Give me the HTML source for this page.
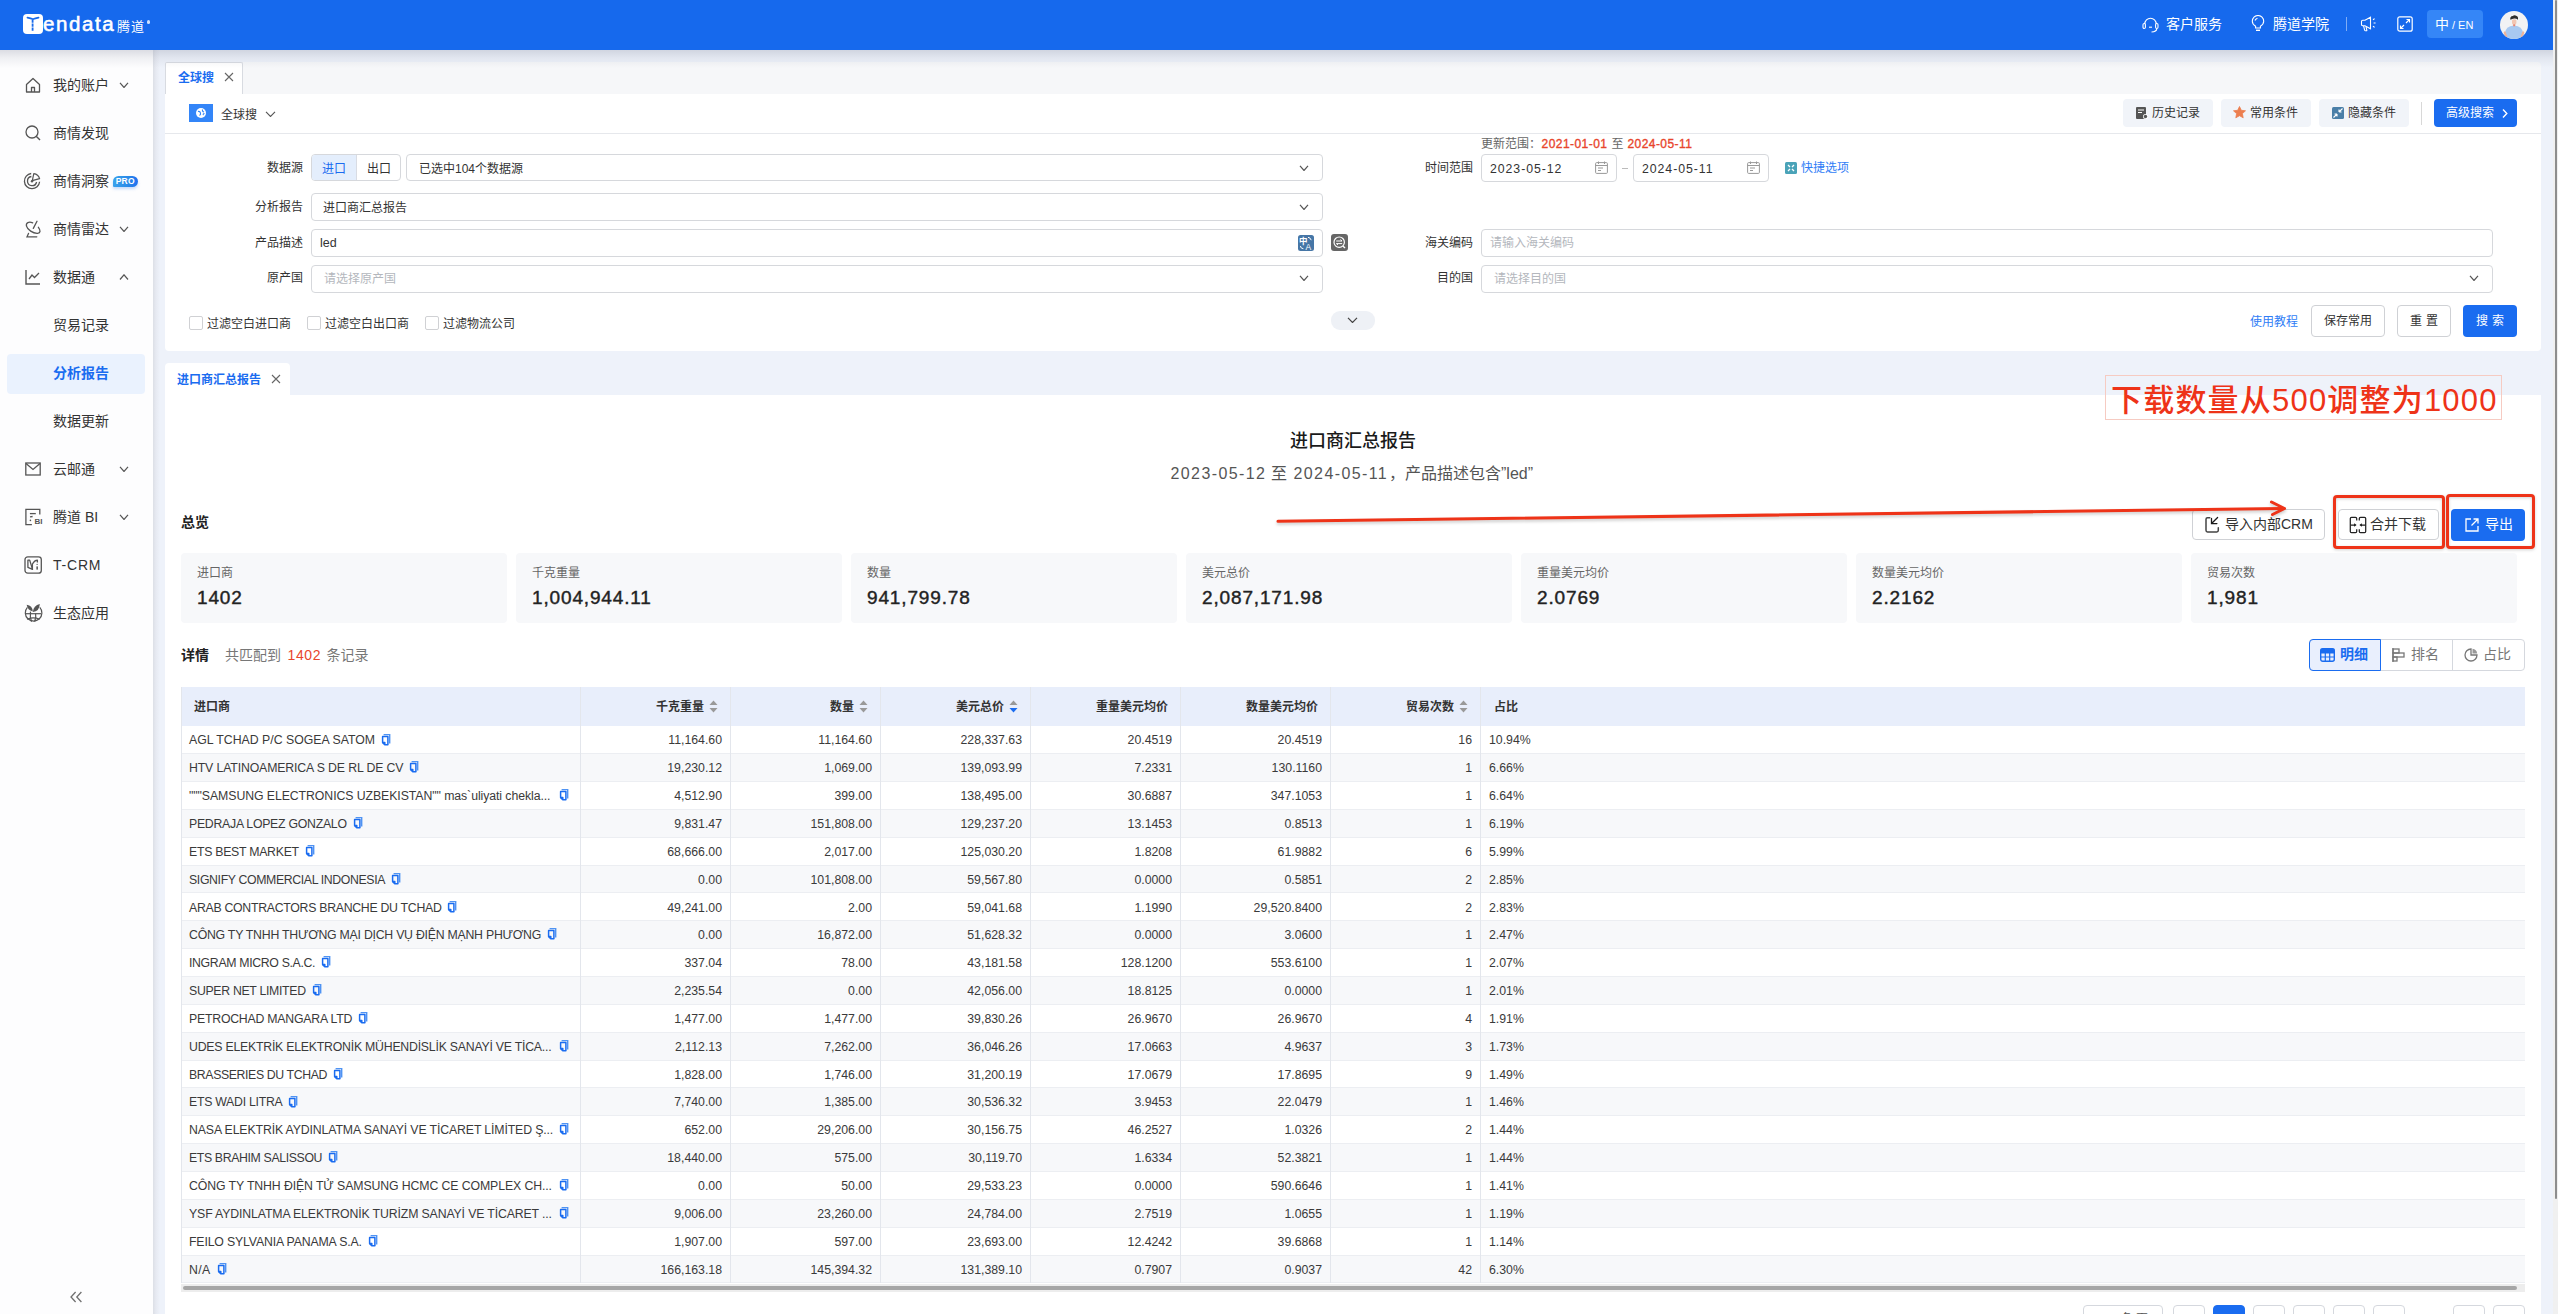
<!DOCTYPE html><html><head><meta charset="utf-8"><style>
*{box-sizing:border-box;margin:0;padding:0}
html,body{width:2558px;height:1314px;overflow:hidden;background:#eef2fa;font-family:"Liberation Sans", "Noto Sans CJK SC", sans-serif;color:#333;}
.a{position:absolute;white-space:nowrap}
.cjk{font-family:"Liberation Sans", "Noto Sans CJK SC", sans-serif}
svg{display:block}
.hdr{left:0;top:0;width:2553px;height:50px;background:#1669ed;}
.sb{left:0;top:50px;width:153px;height:1264px;background:#fdfdfe;}
.sbshadow{left:153px;top:50px;width:7px;height:1264px;background:linear-gradient(90deg,#dcdfe6,#e6e9f1 40%,#eef2fa);}
.hshadow{left:0;top:50px;width:2553px;height:18px;background:linear-gradient(180deg,rgba(140,146,165,.30),rgba(140,146,165,.12) 45%,rgba(140,146,165,0));}
.sbi{font-size:14px;color:#333;line-height:14px;}
.lbl{font-size:12px;color:#333;line-height:12px;text-align:right}
.inp{border:1px solid #d6d8dc;border-radius:4px;background:#fff;}
.ph{font-size:12px;color:#b4b7bd;line-height:12px}
.btn{border:1px solid #cfd1d5;border-radius:4px;background:#fff;font-size:12px;color:#333;text-align:center}
.tb{border-radius:4px;background:#f1f4f9;font-size:12px;color:#333;}
.stat{background:#f7f8fa;border-radius:4px;width:326px;height:70px;top:553px}
.stl{font-size:12px;color:#666;line-height:12px;left:16px;top:14px}
.stv{font-size:19px;font-weight:400;-webkit-text-stroke:0.42px #222;color:#222;line-height:20px;left:16px;top:34.5px;letter-spacing:0.85px}
.th{font-size:12px;font-weight:700;color:#333;line-height:12px}
.td{font-size:12.3px;color:#3a3a3a;line-height:12px}
</style></head><body><div class="a hdr"></div>
<div class="a" style="left:23px;top:14px;width:20px;height:20px;background:#fff;border-radius:4px"></div>
<svg class="a" style="left:23px;top:14px" width="20" height="20" viewBox="0 0 20 20"><path d="M4.5 3.6 Q8 4.6 9.6 5 M15.5 3.6 Q12 4.6 10.4 5" stroke="#186aeb" stroke-width="1.8" fill="none" stroke-linecap="round"/><path d="M9.6 5.5 V17.5" stroke="#186aeb" stroke-width="1.8" stroke-dasharray="3.2 0.8" fill="none"/></svg>
<div class="a" style="left:43px;top:12px;font-family:'Liberation Sans',sans-serif;font-size:20.5px;font-weight:400;color:#fff;line-height:24px;letter-spacing:1.6px;-webkit-text-stroke:0.55px #fff">endata</div>
<div class="a" style="left:117px;top:19px;font-family:'Noto Sans CJK SC',sans-serif;font-size:13px;color:#fff;line-height:14px;letter-spacing:1px">腾道</div>
<div class="a" style="left:146.5px;top:20px;width:3.5px;height:3.5px;border-radius:2px;background:#fff;opacity:.8"></div>
<svg class="a" style="left:2142px;top:15px" width="17" height="18" viewBox="0 0 17 18" fill="none" stroke="#fff" stroke-width="1.1"><path d="M2.8 9 A5.7 5.7 0 0 1 14.2 9"/><rect x="1" y="8.5" width="2.4" height="5" rx="1.2"/><rect x="13.6" y="8.5" width="2.4" height="5" rx="1.2"/><path d="M14.8 13.6 Q14.6 16.8 9.5 17"/><path d="M7 12.2 H10"/></svg>
<div class="a" style="left:2166px;top:16px;font-size:14px;color:#fff;line-height:16px">客户服务</div>
<svg class="a" style="left:2251px;top:15px" width="14" height="18" viewBox="0 0 14 18" fill="none" stroke="#fff" stroke-width="1.1"><path d="M4.6 13 V11.2 C2.6 10 1.3 8.2 1.3 6.2 a5.7 5.7 0 0 1 11.4 0 c0 2 -1.3 3.8 -3.3 5 V13 Z"/><path d="M5 15.3 h4" stroke-width="1.4"/><path d="M4 5.5 Q4.6 3.6 6.5 3.2"/></svg>
<div class="a" style="left:2273px;top:16px;font-size:14px;color:#fff;line-height:16px">腾道学院</div>
<div class="a" style="left:2346px;top:17px;width:1px;height:14px;background:rgba(255,255,255,.45)"></div>
<svg class="a" style="left:2360px;top:16px" width="18" height="16" viewBox="0 0 18 16" fill="none" stroke="#fff" stroke-width="1.1"><path d="M1.5 5.5 Q1.5 4.3 2.7 4.3 H5 L10.5 1.2 V12.8 L5 9.7 H2.7 Q1.5 9.7 1.5 8.5 Z"/><path d="M3.6 9.8 L4.6 14.2 Q4.8 14.8 5.5 14.8 H6.4 Q7 14.8 6.8 14.1 L6 10.3"/><path d="M13 3.8 L14.6 2.6 M13.6 7 H15.6 M13 10.2 L14.6 11.4"/></svg>
<svg class="a" style="left:2397px;top:16px" width="16" height="16" viewBox="0 0 16 16" fill="none" stroke="#fff" stroke-width="1.2"><rect x="0.8" y="0.8" width="14.4" height="14.4" rx="2"/><path d="M9 7 L12.3 3.7 M9.5 3.5 H12.5 V6.5 M7 9 L3.7 12.3 M3.5 9.5 V12.5 H6.5"/></svg>
<div class="a" style="left:2427px;top:10px;width:56px;height:28px;border-radius:4px;background:#3586f7"></div>
<div class="a" style="left:2435px;top:16px;font-size:14px;color:#fff;line-height:16px">中<span style="font-size:11px;margin-left:3px">/ EN</span></div>
<div class="a" style="left:2500px;top:11px;width:28px;height:28px;border-radius:14px;background:#f2f2f4;overflow:hidden">
<svg width="28" height="28" viewBox="0 0 28 28"><path d="M4.6 28 V23 Q5.6 15 14 14.6 Q22.4 15 23.4 23 V28 Z" fill="#a9c9f1"/><path d="M4.8 21.5 L6.3 25.8 M23.2 21.5 L21.7 25.8" stroke="#f0b49a" stroke-width="2.2" stroke-linecap="round"/><rect x="12" y="8.2" width="4.4" height="5.4" rx="1.6" fill="#f3c6b2"/><path d="M13.2 13.2 h2 v2 h-2z" fill="#e8846f"/><path d="M10.4 8.8 Q9.6 5.2 12.8 4.9 Q14.4 3.5 16.6 4.9 Q18.6 5.6 17.8 8.8 Q16.4 7.2 14.2 7.4 Q12.2 7.5 10.4 8.8 Z" fill="#2e2e2e"/></svg></div>
<div class="a" style="left:2553px;top:0;width:5px;height:1314px;background:#f0f0f0"></div>
<div class="a" style="left:2555px;top:0;width:2px;height:1199px;background:#8d8d8d;border-radius:1px"></div>
<div class="a sb"></div>
<div class="a sbshadow"></div>
<svg class="a" style="left:25px;top:77px" width="16" height="16" viewBox="0 0 16 16"><path d="M1.5 7.5 L8 1.5 L14.5 7.5 V15 H1.5 Z M6.5 15 V10.5 H9.5 V15" fill="none" stroke="#555" stroke-width="1.3" stroke-linejoin="round"/></svg>
<div class="a sbi" style="left:53px;top:78px;color:#333;font-weight:400;">我的账户</div>
<svg class="a" style="left:119px;top:82px" width="10" height="6" viewBox="0 0 10 6"><path d="M1 0.8 L5.0 5.5 L9 0.8" fill="none" stroke="#555" stroke-width="1.2"/></svg>
<svg class="a" style="left:25px;top:125px" width="16" height="16" viewBox="0 0 16 16"><circle cx="7" cy="7" r="6" fill="none" stroke="#555" stroke-width="1.3"/><path d="M11.2 11.2 L15 15" stroke="#555" stroke-width="1.4"/></svg>
<div class="a sbi" style="left:53px;top:126px;color:#333;font-weight:400;">商情发现</div>
<svg class="a" style="left:24px;top:173px;overflow:visible" width="17" height="17" viewBox="0 0 17 17"><g fill="none" stroke="#555" stroke-width="1.3"><path d="M15.6 8.8 A7.6 7.6 0 1 1 7.2 0.5"/><path d="M12.6 9 A4.6 4.6 0 1 1 7.4 3.5"/><path d="M8.3 7.6 L9.8 0.6 A7.2 7.2 0 0 1 15.6 5.6 Z" stroke-width="1.2" stroke-linejoin="round"/></g><circle cx="8" cy="8.2" r="1.2" fill="#555"/></svg>
<div class="a sbi" style="left:53px;top:174px;color:#333;font-weight:400;">商情洞察</div>
<div class="a" style="left:113px;top:175.5px;width:24.5px;height:11.5px;border-radius:6px 6px 6px 1px;background:linear-gradient(90deg,#3aa2ec,#2a8ae8 60%,#1f6ff0);box-shadow:0 2px 3px rgba(40,120,240,.25);color:#fff;font-size:8.5px;font-weight:700;line-height:11.5px;text-align:center;font-family:Liberation Sans;letter-spacing:0.2px">PRO</div>
<svg class="a" style="left:24px;top:220px;overflow:visible" width="18" height="18" viewBox="0 0 18 18"><g fill="none" stroke="#555" stroke-width="1.3" stroke-linecap="round"><path d="M8.7 2.8 C5 1.3 1.6 2.6 2.5 6.2 C3.4 9.6 9 13.6 13.6 13.3 C16.6 13.1 16.8 10.4 14.4 7.3"/><path d="M9.3 8.4 L13 1.3"/><path d="M4.5 13.4 L3 16.8 H12.8"/></g></svg>
<div class="a sbi" style="left:53px;top:222px;color:#333;font-weight:400;">商情雷达</div>
<svg class="a" style="left:119px;top:226px" width="10" height="6" viewBox="0 0 10 6"><path d="M1 0.8 L5.0 5.5 L9 0.8" fill="none" stroke="#555" stroke-width="1.2"/></svg>
<svg class="a" style="left:25px;top:269px" width="16" height="16" viewBox="0 0 16 16"><path d="M1 1 V15 H15" fill="none" stroke="#555" stroke-width="1.4"/><path d="M4 10 L7 6 L9.5 8.5 L14 4" fill="none" stroke="#555" stroke-width="1.3"/></svg>
<div class="a sbi" style="left:53px;top:270px;color:#333;font-weight:400;">数据通</div>
<svg class="a" style="left:119px;top:274px" width="10" height="6" viewBox="0 0 10 6"><path d="M1 5.5 L5.0 0.8 L9 5.5" fill="none" stroke="#555" stroke-width="1.2"/></svg>
<div class="a sbi" style="left:53px;top:318px;color:#333;font-weight:400;">贸易记录</div>
<div class="a" style="left:7px;top:354px;width:138px;height:40px;border-radius:4px;background:#eaf2fe"></div>
<div class="a sbi" style="left:53px;top:366px;color:#1a6cf0;font-weight:700;">分析报告</div>
<div class="a sbi" style="left:53px;top:414px;color:#333;font-weight:400;">数据更新</div>
<svg class="a" style="left:25px;top:461px" width="16" height="16" viewBox="0 0 16 16"><rect x="0.8" y="2" width="14.4" height="12" fill="none" stroke="#555" stroke-width="1.3"/><path d="M1 2.5 L8 8.5 L15 2.5" fill="none" stroke="#555" stroke-width="1.3"/></svg>
<div class="a sbi" style="left:53px;top:462px;color:#333;font-weight:400;">云邮通</div>
<svg class="a" style="left:119px;top:466px" width="10" height="6" viewBox="0 0 10 6"><path d="M1 0.8 L5.0 5.5 L9 0.8" fill="none" stroke="#555" stroke-width="1.2"/></svg>
<svg class="a" style="left:24px;top:508px;overflow:visible" width="19" height="18" viewBox="0 0 19 18"><g fill="none" stroke="#555" stroke-width="1.3"><path d="M7.9 16.6 H1.9 V1.4 H15.8 V6.5"/><path d="M5.9 5.6 H11.8"/><path d="M6 8.8 L8.6 8.5"/></g><circle cx="6.4" cy="12.4" r="0.8" fill="#555"/><text x="10.6" y="15.9" font-family="Liberation Sans" font-size="8" font-weight="700" fill="#555">BI</text></svg>
<div class="a sbi" style="left:53px;top:510px;color:#333;font-weight:400;">腾道 BI</div>
<svg class="a" style="left:119px;top:514px" width="10" height="6" viewBox="0 0 10 6"><path d="M1 0.8 L5.0 5.5 L9 0.8" fill="none" stroke="#555" stroke-width="1.2"/></svg>
<svg class="a" style="left:24px;top:556px;overflow:visible" width="19" height="18" viewBox="0 0 19 18"><g fill="none" stroke="#555" stroke-width="1.3" stroke-linejoin="round"><rect x="1" y="0.8" width="16.3" height="16.4" rx="2.8"/><path d="M3.9 4.1 H5.7 L8.5 13.4 L3.9 11.4 Z"/><path d="M8.4 13.4 V8 Q10.5 4.2 13.4 4.1 V6.5"/></g><circle cx="13.1" cy="8.4" r="0.6" fill="#555"/><rect x="12.4" y="10.4" width="1.5" height="3.2" fill="#555"/></svg>
<div class="a sbi" style="left:53px;top:558px;color:#333;font-weight:400;letter-spacing:0.8px;">T-CRM</div>
<svg class="a" style="left:24px;top:604px;overflow:visible" width="19" height="19" viewBox="0 0 19 19"><g fill="none" stroke="#555" stroke-width="1.2"><path d="M3.4 3.3 A8.3 8.3 0 1 0 15.8 3.3"/><path d="M1.2 9.7 H17"/><path d="M6.5 7.6 Q5.8 13 7.5 17.8 M11.6 9.5 Q12.4 13.5 10.6 17.8 M3 15.2 Q9.2 12.5 15.6 15.2"/></g><path d="M2.7 0.8 Q8.5 1.5 8.8 7.6 Q3.5 6.2 2.7 0.8 Z" fill="#555"/><path d="M15.8 0 Q15.5 7.5 8.8 8 Q9.5 1.5 15.8 0 Z" fill="#555"/></svg>
<div class="a sbi" style="left:53px;top:606px;color:#333;font-weight:400;">生态应用</div>
<svg class="a" style="left:70px;top:1291px" width="13" height="12" viewBox="0 0 13 12"><path d="M5.6 1 L1 6 L5.6 11 M11.4 1 L6.8 6 L11.4 11" fill="none" stroke="#707070" stroke-width="1.3"/></svg>
<div class="a" style="left:165px;top:62px;width:2376px;height:32px;background:#f6f7f9;border-radius:4px 4px 0 0"></div>
<div class="a" style="left:165px;top:62px;width:78px;height:33px;background:#fff;border:1px solid #d8dbe1;border-bottom:none;border-radius:2px 2px 0 0"></div>
<div class="a" style="left:178px;top:69.5px;font-size:12px;color:#1a6cf0;font-weight:700;line-height:13px;font-family:'Noto Sans CJK SC', 'Liberation Sans', sans-serif">全球搜</div>
<svg class="a" style="left:224px;top:72px" width="10" height="10" viewBox="0 0 10 10"><path d="M1 1 L9 9 M9 1 L1 9" stroke="#666" stroke-width="1.1"/></svg>
<div class="a" style="left:165px;top:94px;width:2376px;height:257px;background:#fff;border-radius:0 0 4px 4px"></div>
<div class="a" style="left:165px;top:133px;width:2376px;height:1px;background:#e6e8ec"></div>
<div class="a" style="left:189px;top:104px;width:24px;height:18px;background:#3385f8"></div>
<svg class="a" style="left:195px;top:107px" width="12" height="12" viewBox="0 0 12 12"><circle cx="6" cy="6" r="5" fill="#fff"/><path d="M3 4.5 Q5 4 5.5 6 Q6 7.5 4.5 8.5 M7.5 2.5 Q7 4.5 9 5 M8.5 8 Q7.5 7 9.5 6.5" stroke="#3385f8" stroke-width="1.1" fill="none"/></svg>
<div class="a" style="left:221px;top:108.5px;font-size:12px;color:#333;line-height:13px">全球搜</div>
<svg class="a" style="left:265px;top:111px" width="11" height="6" viewBox="0 0 11 6"><path d="M1 0.8 L5.5 5.5 L10 0.8" fill="none" stroke="#555" stroke-width="1.1"/></svg>
<div class="a tb" style="left:2123px;top:99px;width:90px;height:28px"></div>
<svg class="a" style="left:2136px;top:107px" width="12" height="12" viewBox="0 0 12 12"><rect x="0" y="0" width="10" height="12" rx="1" fill="#555"/><path d="M2 3 H8 M2 5.5 H6" stroke="#fff" stroke-width="1"/><circle cx="9.5" cy="9.5" r="2.5" fill="#fff"/><circle cx="9.5" cy="9.5" r="1.7" fill="#555"/></svg>
<div class="a" style="left:2152px;top:107px;font-size:12px;color:#333;line-height:13px">历史记录</div>
<div class="a tb" style="left:2221px;top:99px;width:90px;height:28px"></div>
<svg class="a" style="left:2233px;top:106px" width="13" height="13" viewBox="0 0 13 13"><path d="M6.5 0.5 L8.3 4.3 L12.5 4.8 L9.4 7.6 L10.2 11.8 L6.5 9.7 L2.8 11.8 L3.6 7.6 L0.5 4.8 L4.7 4.3 Z" fill="#ec7e4f" stroke="#ec7e4f" stroke-width="0.8" stroke-linejoin="round"/></svg>
<div class="a" style="left:2250px;top:107px;font-size:12px;color:#333;line-height:13px">常用条件</div>
<div class="a tb" style="left:2319px;top:99px;width:90px;height:28px"></div>
<svg class="a" style="left:2332px;top:107px" width="12" height="12" viewBox="0 0 12 12"><rect width="12" height="12" rx="1.5" fill="#4a7fa8"/><path d="M7 5 L10.5 1.5 M7 5 V2.5 M7 5 H9.5 M5 7 L1.5 10.5 M5 7 V9.5 M5 7 H2.5" stroke="#fff" stroke-width="1.1" fill="none"/></svg>
<div class="a" style="left:2348px;top:107px;font-size:12px;color:#333;line-height:13px">隐藏条件</div>
<div class="a" style="left:2421px;top:102px;width:1px;height:23px;background:#d8d8d8"></div>
<div class="a" style="left:2434px;top:99px;width:83px;height:28px;border-radius:4px;background:#1a6cf0"></div>
<div class="a" style="left:2446px;top:107px;font-size:12px;color:#fff;line-height:13px">高级搜索</div>
<svg class="a" style="left:2502px;top:108px" width="6" height="11" viewBox="0 0 6 11"><path d="M1 1.5 L4.8 5.5 L1 9.5" fill="none" stroke="#fff" stroke-width="1.4"/></svg>
<div class="a lbl" style="left:267px;top:162px">数据源</div>
<div class="a lbl" style="left:255px;top:201px">分析报告</div>
<div class="a lbl" style="left:255px;top:237px">产品描述</div>
<div class="a lbl" style="left:267px;top:272px">原产国</div>
<div class="a lbl" style="left:1425px;top:162px">时间范围</div>
<div class="a lbl" style="left:1425px;top:237px">海关编码</div>
<div class="a lbl" style="left:1437px;top:272px">目的国</div>
<div class="a" style="left:1481px;top:138px;font-size:12px;color:#666;line-height:13px">更新范围：<span style="color:#e8452c;-webkit-text-stroke:0.35px #e8452c;letter-spacing:0.45px;margin-left:0.5px">2021-01-01</span><span style="margin:0 4px">至</span><span style="color:#e8452c;-webkit-text-stroke:0.35px #e8452c;letter-spacing:0.45px">2024-05-11</span></div>
<div class="a inp" style="left:311px;top:154px;width:90px;height:27px"></div>
<div class="a" style="left:312px;top:155px;width:45px;height:25px;background:#e4eefc;border-radius:3px 0 0 3px"></div>
<div class="a" style="left:356px;top:155px;width:1px;height:25px;background:#d9dce3"></div>
<div class="a" style="left:322px;top:162.5px;font-size:12px;color:#1a6cf0;line-height:13px">进口</div>
<div class="a" style="left:367px;top:162.5px;font-size:12px;color:#333;line-height:13px">出口</div>
<div class="a inp" style="left:406px;top:154px;width:917px;height:27px"></div>
<div class="a" style="left:419px;top:162.5px;font-size:12px;color:#333;line-height:13px">已选中104个数据源</div>
<svg class="a" style="left:1299px;top:165px" width="10" height="6" viewBox="0 0 10 6"><path d="M1 0.8 L5.0 5.5 L9 0.8" fill="none" stroke="#555" stroke-width="1.2"/></svg>
<div class="a inp" style="left:311px;top:193px;width:1012px;height:28px"></div>
<div class="a" style="left:323px;top:201.5px;font-size:12px;color:#333;line-height:13px">进口商汇总报告</div>
<svg class="a" style="left:1299px;top:204px" width="10" height="6" viewBox="0 0 10 6"><path d="M1 0.8 L5.0 5.5 L9 0.8" fill="none" stroke="#555" stroke-width="1.2"/></svg>
<div class="a inp" style="left:311px;top:229px;width:1012px;height:28px"></div>
<div class="a" style="left:320px;top:237px;font-size:12.5px;color:#333;line-height:13px">led</div>
<svg class="a" style="left:1298px;top:235px" width="16" height="16" viewBox="0 0 16 16"><rect width="16" height="16" rx="2.5" fill="#4676a6"/><text x="1" y="8.6" font-family="Noto Sans CJK SC" font-size="8.5" font-weight="700" fill="#fff">中</text><text x="7.6" y="14.6" font-family="Liberation Sans" font-size="8.5" fill="#fff">A</text><path d="M10 2.3 Q12.6 2.6 13.2 5.2" stroke="#fff" fill="none" stroke-width="1"/><path d="M2.4 11 Q2.6 13.6 5.4 13.7" stroke="#fff" fill="none" stroke-width="1"/></svg>
<svg class="a" style="left:1331px;top:234px" width="17" height="17" viewBox="0 0 17 17"><rect width="17" height="17" rx="3" fill="#666"/><circle cx="8.2" cy="8.2" r="5.2" fill="none" stroke="#fff" stroke-width="1.2"/><path d="M11.9 12 L14 14.1" stroke="#fff" stroke-width="1.4"/><path d="M5.2 7 H11 L9.4 5.6 M11.2 9.6 H5.4 L7 11" stroke="#fff" stroke-width="1" fill="none"/></svg>
<div class="a inp" style="left:311px;top:265px;width:1012px;height:28px"></div>
<div class="a ph" style="left:324px;top:273px">请选择原产国</div>
<svg class="a" style="left:1299px;top:275px" width="10" height="6" viewBox="0 0 10 6"><path d="M1 0.8 L5.0 5.5 L9 0.8" fill="none" stroke="#555" stroke-width="1.2"/></svg>
<div class="a inp" style="left:1481px;top:154px;width:136px;height:28px"></div>
<div class="a" style="left:1490px;top:162.5px;font-size:12.3px;color:#333;line-height:13px;letter-spacing:0.95px">2023-05-12</div>
<svg class="a" style="left:1595px;top:161px" width="13" height="13" viewBox="0 0 13 13"><rect x="0.6" y="1.6" width="11.8" height="10.8" rx="1" fill="none" stroke="#999" stroke-width="1"/><path d="M3.5 0.5 V3 M9.5 0.5 V3 M0.6 4.5 H12.4 M3 7 H8 M3 9.5 H6" stroke="#999" stroke-width="1"/></svg>
<div class="a inp" style="left:1633px;top:154px;width:136px;height:28px"></div>
<div class="a" style="left:1642px;top:162.5px;font-size:12.3px;color:#333;line-height:13px;letter-spacing:0.95px">2024-05-11</div>
<svg class="a" style="left:1747px;top:161px" width="13" height="13" viewBox="0 0 13 13"><rect x="0.6" y="1.6" width="11.8" height="10.8" rx="1" fill="none" stroke="#999" stroke-width="1"/><path d="M3.5 0.5 V3 M9.5 0.5 V3 M0.6 4.5 H12.4 M3 7 H8 M3 9.5 H6" stroke="#999" stroke-width="1"/></svg>
<div class="a" style="left:1622px;top:168px;width:6px;height:1px;background:#bbb"></div>
<svg class="a" style="left:1785px;top:162px" width="12" height="12" viewBox="0 0 12 12"><rect width="12" height="12" rx="1.5" fill="#4aa3b8"/><path d="M3 3 L5 5 M9 3 L7 5 M3 9 L5 7 M9 9 L7 7" stroke="#fff" stroke-width="1.3"/></svg>
<div class="a" style="left:1801px;top:162px;font-size:12px;color:#2f7df6;line-height:13px">快捷选项</div>
<div class="a inp" style="left:1481px;top:229px;width:1012px;height:28px"></div>
<div class="a ph" style="left:1490px;top:237px">请输入海关编码</div>
<div class="a inp" style="left:1481px;top:265px;width:1012px;height:28px"></div>
<div class="a ph" style="left:1494px;top:273px">请选择目的国</div>
<svg class="a" style="left:2469px;top:275px" width="10" height="6" viewBox="0 0 10 6"><path d="M1 0.8 L5.0 5.5 L9 0.8" fill="none" stroke="#555" stroke-width="1.2"/></svg>
<div class="a" style="left:189px;top:316px;width:14px;height:14px;border:1px solid #d0d1d4;border-radius:2px;background:#fff"></div>
<div class="a" style="left:207px;top:317.5px;font-size:12px;color:#333;line-height:13px">过滤空白进口商</div>
<div class="a" style="left:307px;top:316px;width:14px;height:14px;border:1px solid #d0d1d4;border-radius:2px;background:#fff"></div>
<div class="a" style="left:325px;top:317.5px;font-size:12px;color:#333;line-height:13px">过滤空白出口商</div>
<div class="a" style="left:425px;top:316px;width:14px;height:14px;border:1px solid #d0d1d4;border-radius:2px;background:#fff"></div>
<div class="a" style="left:443px;top:317.5px;font-size:12px;color:#333;line-height:13px">过滤物流公司</div>
<div class="a" style="left:1331px;top:311px;width:44px;height:19px;border-radius:9px;background:#eef1f6"></div>
<svg class="a" style="left:1347px;top:317px" width="11" height="6" viewBox="0 0 11 6"><path d="M1 0.8 L5.5 5.5 L10 0.8" fill="none" stroke="#444" stroke-width="1.2"/></svg>
<div class="a" style="left:2250px;top:315.5px;font-size:12px;color:#2f7df6;line-height:13px">使用教程</div>
<div class="a btn" style="left:2311px;top:305px;width:74px;height:32px"></div><div class="a" style="left:2324px;top:315px;font-size:12px;color:#333;line-height:13px">保存常用</div>
<div class="a btn" style="left:2397px;top:305px;width:54px;height:32px"></div><div class="a" style="left:2410px;top:315px;font-size:12px;color:#333;line-height:13px;letter-spacing:4px">重置</div>
<div class="a" style="left:2463px;top:305px;width:54px;height:32px;border-radius:4px;background:#1a6cf0"></div><div class="a" style="left:2476px;top:315px;font-size:12px;color:#fff;line-height:13px;letter-spacing:4px">搜索</div>
<div class="a" style="left:165px;top:363px;width:125px;height:33px;background:#fff;border-radius:4px 4px 0 0"></div>
<div class="a" style="left:177px;top:371.5px;font-size:12px;color:#1a6cf0;font-weight:700;line-height:13px;font-family:'Noto Sans CJK SC', 'Liberation Sans', sans-serif">进口商汇总报告</div>
<svg class="a" style="left:271px;top:374px" width="10" height="10" viewBox="0 0 10 10"><path d="M1 1 L9 9 M9 1 L1 9" stroke="#666" stroke-width="1.1"/></svg>
<div class="a" style="left:165px;top:394.7px;width:2376px;height:920px;background:#fff;border-radius:0"></div>
<div class="a" style="left:1290px;top:429px;font-size:18px;font-weight:500;color:#1a1a1a;line-height:20px;font-family:'Noto Sans CJK SC', 'Liberation Sans', sans-serif">进口商汇总报告</div>
<div class="a" style="left:1170.5px;top:465px;font-size:16px;color:#555;line-height:18px;letter-spacing:1.4px">2023-05-12</div>
<div class="a" style="left:1271px;top:465px;font-size:16px;color:#555;line-height:18px;">至</div>
<div class="a" style="left:1293.5px;top:465px;font-size:16px;color:#555;line-height:18px;letter-spacing:1.4px">2024-05-11</div>
<div class="a" style="left:1389px;top:465px;font-size:16px;color:#555;line-height:18px;letter-spacing:0px">，产品描述包含”led”</div>
<div class="a" style="left:181px;top:515px;font-size:14px;font-weight:700;color:#222;line-height:15px">总览</div>
<div class="a btn" style="left:2192px;top:509px;width:133px;height:31px"></div>
<svg class="a" style="left:2204px;top:516px" width="16" height="17" viewBox="0 0 16 17" fill="none" stroke-linecap="round"><path d="M5.8 1.7 H3.5 Q2 1.7 2 3.2 V14.3 Q2 15.9 3.5 15.9 H12.8 Q14.3 15.9 14.3 14.3 V11.8" stroke="#444" stroke-width="1.5"/><path d="M13.6 1.5 L7.8 7.3 M7.5 2.4 V7.6 H12.9" stroke="#1a1a1a" stroke-width="1.3"/></svg>
<div class="a" style="left:2225px;top:517px;font-size:14px;color:#333;line-height:15px">导入内部CRM</div>
<div class="a btn" style="left:2338px;top:509px;width:101px;height:31px"></div>
<svg class="a" style="left:2349px;top:516px" width="18" height="18" viewBox="0 0 18 18" fill="none" stroke="#222" stroke-width="1.25"><path d="M7.7 4.5 V2.5 Q7.7 1.3 6.5 1.3 H2.5 Q1.3 1.3 1.3 2.5 V15.4 Q1.3 16.6 2.5 16.6 H6.5 Q7.7 16.6 7.7 15.4 V13.2"/><path d="M10.3 4.5 V2.5 Q10.3 1.3 11.5 1.3 H15.5 Q16.7 1.3 16.7 2.5 V15.4 Q16.7 16.6 15.5 16.6 H11.5 Q10.3 16.6 10.3 15.4 V13.2"/><path d="M1.8 9 H6 M16.2 9 H12"/><path d="M5.2 7.2 L7.6 9 L5.2 10.8 Z M12.8 7.2 L10.4 9 L12.8 10.8 Z" fill="#111" stroke="none"/></svg>
<div class="a" style="left:2370px;top:517px;font-size:14px;color:#333;line-height:15px">合并下载</div>
<div class="a" style="left:2451px;top:509px;width:74px;height:32px;border-radius:4px;background:#1a6cf0"></div>
<svg class="a" style="left:2465px;top:518px" width="14" height="14" viewBox="0 0 14 14" fill="none" stroke="#fff" stroke-width="1.3"><path d="M6 1 H1 V13 H13 V8"/><path d="M8.5 1 H13 V5.5 M13 1 L6.5 7.5"/></svg>
<div class="a" style="left:2485px;top:517px;font-size:14px;color:#fff;line-height:15px">导出</div>
<div class="a stat" style="left:181px"><div class="a stl">进口商</div><div class="a stv">1402</div></div>
<div class="a stat" style="left:516px"><div class="a stl">千克重量</div><div class="a stv">1,004,944.11</div></div>
<div class="a stat" style="left:851px"><div class="a stl">数量</div><div class="a stv">941,799.78</div></div>
<div class="a stat" style="left:1186px"><div class="a stl">美元总价</div><div class="a stv">2,087,171.98</div></div>
<div class="a stat" style="left:1521px"><div class="a stl">重量美元均价</div><div class="a stv">2.0769</div></div>
<div class="a stat" style="left:1856px"><div class="a stl">数量美元均价</div><div class="a stv">2.2162</div></div>
<div class="a stat" style="left:2191px"><div class="a stl">贸易次数</div><div class="a stv">1,981</div></div>
<div class="a" style="left:181px;top:648px;font-size:14px;font-weight:700;color:#222;line-height:15px">详情</div>
<div class="a" style="left:225px;top:648px;font-size:14px;color:#777;line-height:15px">共匹配到<span style="color:#e8452c;margin:0 5.5px 0 6.5px;letter-spacing:0.6px">1402</span>条记录</div>
<div class="a" style="left:2309px;top:639px;width:216px;height:32px;border:1px solid #d5d8de;border-radius:4px;background:#fff"></div>
<div class="a" style="left:2309px;top:639px;width:72px;height:32px;border:1px solid #1a6cf0;border-radius:4px 0 0 4px;background:#e9effd"></div>
<div class="a" style="left:2452px;top:640px;width:1px;height:30px;background:#d5d8de"></div>
<svg class="a" style="left:2320px;top:648px" width="15" height="14" viewBox="0 0 15 14"><rect x="0.7" y="0.7" width="13.6" height="12.6" rx="2" fill="none" stroke="#1a6cf0" stroke-width="1.4"/><path d="M0.7 5 H14.3 M0.7 9 H14.3 M5.3 5 V13 M9.7 5 V13" stroke="#1a6cf0" stroke-width="1.2"/><rect x="0.7" y="0.7" width="13.6" height="4.3" fill="#1a6cf0"/></svg>
<div class="a" style="left:2340px;top:647px;font-size:14px;font-weight:700;color:#1a6cf0;line-height:15px">明细</div>
<svg class="a" style="left:2392px;top:648px" width="14" height="14" viewBox="0 0 14 14" fill="none" stroke="#777" stroke-width="1.3"><path d="M1 0 V14"/><rect x="1" y="1" width="6" height="4"/><rect x="1" y="5" width="11" height="4"/><rect x="1" y="9" width="4" height="4"/></svg>
<div class="a" style="left:2411px;top:647px;font-size:14px;color:#777;line-height:15px">排名</div>
<svg class="a" style="left:2464px;top:648px" width="14" height="14" viewBox="0 0 14 14" fill="none" stroke="#777" stroke-width="1.3"><path d="M7 1 A6 6 0 1 0 13 7 H7 Z"/><path d="M8.5 0.8 A5.5 5.5 0 0 1 13.2 5.5 H8.5 Z" fill="#999" stroke="none"/></svg>
<div class="a" style="left:2483px;top:647px;font-size:14px;color:#777;line-height:15px">占比</div>
<div class="a" style="left:181px;top:687px;width:2344px;height:39.39999999999998px;background:#e8eefb"></div>
<div class="a" style="left:580px;top:687px;width:1px;height:596.4px;background:#e3e6ec"></div>
<div class="a" style="left:730px;top:687px;width:1px;height:596.4px;background:#e3e6ec"></div>
<div class="a" style="left:880px;top:687px;width:1px;height:596.4px;background:#e3e6ec"></div>
<div class="a" style="left:1030px;top:687px;width:1px;height:596.4px;background:#e3e6ec"></div>
<div class="a" style="left:1180px;top:687px;width:1px;height:596.4px;background:#e3e6ec"></div>
<div class="a" style="left:1330px;top:687px;width:1px;height:596.4px;background:#e3e6ec"></div>
<div class="a" style="left:1480px;top:687px;width:1px;height:596.4px;background:#e3e6ec"></div>
<div class="a" style="left:181px;top:687px;width:1px;height:596.4px;background:#e3e6ec"></div>
<div class="a th" style="left:194px;top:701px">进口商</div>
<svg class="a" style="left:708.5px;top:700px" width="9" height="13" viewBox="0 0 9 13"><path d="M4.5 0.5 L8.5 5 H0.5 Z" fill="#999"/><path d="M4.5 12.5 L8.5 8 H0.5 Z" fill="#999"/></svg>
<div class="a th" style="right:1854px;top:701px">千克重量</div>
<svg class="a" style="left:858.5px;top:700px" width="9" height="13" viewBox="0 0 9 13"><path d="M4.5 0.5 L8.5 5 H0.5 Z" fill="#999"/><path d="M4.5 12.5 L8.5 8 H0.5 Z" fill="#999"/></svg>
<div class="a th" style="right:1704px;top:701px">数量</div>
<svg class="a" style="left:1008.5px;top:700px" width="9" height="13" viewBox="0 0 9 13"><path d="M4.5 0.5 L8.5 5 H0.5 Z" fill="#999"/><path d="M4.5 12.5 L8.5 8 H0.5 Z" fill="#1a6cf0"/></svg>
<div class="a th" style="right:1554px;top:701px">美元总价</div>
<div class="a th" style="right:1390px;top:701px">重量美元均价</div>
<div class="a th" style="right:1240px;top:701px">数量美元均价</div>
<svg class="a" style="left:1458.5px;top:700px" width="9" height="13" viewBox="0 0 9 13"><path d="M4.5 0.5 L8.5 5 H0.5 Z" fill="#999"/><path d="M4.5 12.5 L8.5 8 H0.5 Z" fill="#999"/></svg>
<div class="a th" style="right:1104px;top:701px">贸易次数</div>
<div class="a th" style="left:1494px;top:701px">占比</div>
<div class="a" style="left:182px;top:726.40px;width:2343px;height:27.85px;background:#fff;border-bottom:1px solid #eceef2"></div>
<div class="a" style="left:182px;top:754.25px;width:2343px;height:27.85px;background:#f7f8fa;border-bottom:1px solid #eceef2"></div>
<div class="a" style="left:182px;top:782.10px;width:2343px;height:27.85px;background:#fff;border-bottom:1px solid #eceef2"></div>
<div class="a" style="left:182px;top:809.95px;width:2343px;height:27.85px;background:#f7f8fa;border-bottom:1px solid #eceef2"></div>
<div class="a" style="left:182px;top:837.80px;width:2343px;height:27.85px;background:#fff;border-bottom:1px solid #eceef2"></div>
<div class="a" style="left:182px;top:865.65px;width:2343px;height:27.85px;background:#f7f8fa;border-bottom:1px solid #eceef2"></div>
<div class="a" style="left:182px;top:893.50px;width:2343px;height:27.85px;background:#fff;border-bottom:1px solid #eceef2"></div>
<div class="a" style="left:182px;top:921.35px;width:2343px;height:27.85px;background:#f7f8fa;border-bottom:1px solid #eceef2"></div>
<div class="a" style="left:182px;top:949.20px;width:2343px;height:27.85px;background:#fff;border-bottom:1px solid #eceef2"></div>
<div class="a" style="left:182px;top:977.05px;width:2343px;height:27.85px;background:#f7f8fa;border-bottom:1px solid #eceef2"></div>
<div class="a" style="left:182px;top:1004.90px;width:2343px;height:27.85px;background:#fff;border-bottom:1px solid #eceef2"></div>
<div class="a" style="left:182px;top:1032.75px;width:2343px;height:27.85px;background:#f7f8fa;border-bottom:1px solid #eceef2"></div>
<div class="a" style="left:182px;top:1060.60px;width:2343px;height:27.85px;background:#fff;border-bottom:1px solid #eceef2"></div>
<div class="a" style="left:182px;top:1088.45px;width:2343px;height:27.85px;background:#f7f8fa;border-bottom:1px solid #eceef2"></div>
<div class="a" style="left:182px;top:1116.30px;width:2343px;height:27.85px;background:#fff;border-bottom:1px solid #eceef2"></div>
<div class="a" style="left:182px;top:1144.15px;width:2343px;height:27.85px;background:#f7f8fa;border-bottom:1px solid #eceef2"></div>
<div class="a" style="left:182px;top:1172.00px;width:2343px;height:27.85px;background:#fff;border-bottom:1px solid #eceef2"></div>
<div class="a" style="left:182px;top:1199.85px;width:2343px;height:27.85px;background:#f7f8fa;border-bottom:1px solid #eceef2"></div>
<div class="a" style="left:182px;top:1227.70px;width:2343px;height:27.85px;background:#fff;border-bottom:1px solid #eceef2"></div>
<div class="a" style="left:182px;top:1255.55px;width:2343px;height:27.85px;background:#f7f8fa;border-bottom:1px solid #eceef2"></div>
<div class="a" style="left:580px;top:687px;width:1px;height:596.4px;background:#e3e6ec"></div>
<div class="a" style="left:730px;top:687px;width:1px;height:596.4px;background:#e3e6ec"></div>
<div class="a" style="left:880px;top:687px;width:1px;height:596.4px;background:#e3e6ec"></div>
<div class="a" style="left:1030px;top:687px;width:1px;height:596.4px;background:#e3e6ec"></div>
<div class="a" style="left:1180px;top:687px;width:1px;height:596.4px;background:#e3e6ec"></div>
<div class="a" style="left:1330px;top:687px;width:1px;height:596.4px;background:#e3e6ec"></div>
<div class="a" style="left:1480px;top:687px;width:1px;height:596.4px;background:#e3e6ec"></div>
<div class="a" style="left:181px;top:726.4px;width:1px;height:557.0px;background:#e3e6ec"></div>
<div class="a td" style="left:189px;top:734.40px;letter-spacing:0.000px">AGL TCHAD P/C SOGEA SATOM</div>
<svg class="a" style="left:381.15px;top:732.50px" width="11" height="13" viewBox="0 0 11 13"><path d="M2.6 1.6 H8.7 V10.4" fill="none" stroke="#4f93f3" stroke-width="1.4"/><path d="M1.6 3.4 H6.9 V11.7 H3.8 L1.6 9.6 Z M1.6 9.6 H3.8 V11.7" fill="none" stroke="#1a6cf0" stroke-width="1.5" stroke-linejoin="round"/></svg>
<div class="a td" style="right:1836px;top:734.40px">11,164.60</div>
<div class="a td" style="right:1686px;top:734.40px">11,164.60</div>
<div class="a td" style="right:1536px;top:734.40px">228,337.63</div>
<div class="a td" style="right:1386px;top:734.40px">20.4519</div>
<div class="a td" style="right:1236px;top:734.40px">20.4519</div>
<div class="a td" style="right:1086px;top:734.40px">16</div>
<div class="a td" style="left:1489px;top:734.40px">10.94%</div>
<div class="a td" style="left:189px;top:762.25px;letter-spacing:-0.139px">HTV LATINOAMERICA S DE RL DE CV</div>
<svg class="a" style="left:408.85px;top:760.35px" width="11" height="13" viewBox="0 0 11 13"><path d="M2.6 1.6 H8.7 V10.4" fill="none" stroke="#4f93f3" stroke-width="1.4"/><path d="M1.6 3.4 H6.9 V11.7 H3.8 L1.6 9.6 Z M1.6 9.6 H3.8 V11.7" fill="none" stroke="#1a6cf0" stroke-width="1.5" stroke-linejoin="round"/></svg>
<div class="a td" style="right:1836px;top:762.25px">19,230.12</div>
<div class="a td" style="right:1686px;top:762.25px">1,069.00</div>
<div class="a td" style="right:1536px;top:762.25px">139,093.99</div>
<div class="a td" style="right:1386px;top:762.25px">7.2331</div>
<div class="a td" style="right:1236px;top:762.25px">130.1160</div>
<div class="a td" style="right:1086px;top:762.25px">1</div>
<div class="a td" style="left:1489px;top:762.25px">6.66%</div>
<div class="a td" style="left:189px;top:790.10px;letter-spacing:-0.080px">"""SAMSUNG ELECTRONICS UZBEKISTAN"" mas`uliyati chekla...</div>
<svg class="a" style="left:558.85px;top:788.20px" width="11" height="13" viewBox="0 0 11 13"><path d="M2.6 1.6 H8.7 V10.4" fill="none" stroke="#4f93f3" stroke-width="1.4"/><path d="M1.6 3.4 H6.9 V11.7 H3.8 L1.6 9.6 Z M1.6 9.6 H3.8 V11.7" fill="none" stroke="#1a6cf0" stroke-width="1.5" stroke-linejoin="round"/></svg>
<div class="a td" style="right:1836px;top:790.10px">4,512.90</div>
<div class="a td" style="right:1686px;top:790.10px">399.00</div>
<div class="a td" style="right:1536px;top:790.10px">138,495.00</div>
<div class="a td" style="right:1386px;top:790.10px">30.6887</div>
<div class="a td" style="right:1236px;top:790.10px">347.1053</div>
<div class="a td" style="right:1086px;top:790.10px">1</div>
<div class="a td" style="left:1489px;top:790.10px">6.64%</div>
<div class="a td" style="left:189px;top:817.95px;letter-spacing:-0.267px">PEDRAJA LOPEZ GONZALO</div>
<svg class="a" style="left:352.85px;top:816.05px" width="11" height="13" viewBox="0 0 11 13"><path d="M2.6 1.6 H8.7 V10.4" fill="none" stroke="#4f93f3" stroke-width="1.4"/><path d="M1.6 3.4 H6.9 V11.7 H3.8 L1.6 9.6 Z M1.6 9.6 H3.8 V11.7" fill="none" stroke="#1a6cf0" stroke-width="1.5" stroke-linejoin="round"/></svg>
<div class="a td" style="right:1836px;top:817.95px">9,831.47</div>
<div class="a td" style="right:1686px;top:817.95px">151,808.00</div>
<div class="a td" style="right:1536px;top:817.95px">129,237.20</div>
<div class="a td" style="right:1386px;top:817.95px">13.1453</div>
<div class="a td" style="right:1236px;top:817.95px">0.8513</div>
<div class="a td" style="right:1086px;top:817.95px">1</div>
<div class="a td" style="left:1489px;top:817.95px">6.19%</div>
<div class="a td" style="left:189px;top:845.80px;letter-spacing:-0.271px">ETS BEST MARKET</div>
<svg class="a" style="left:304.85px;top:843.90px" width="11" height="13" viewBox="0 0 11 13"><path d="M2.6 1.6 H8.7 V10.4" fill="none" stroke="#4f93f3" stroke-width="1.4"/><path d="M1.6 3.4 H6.9 V11.7 H3.8 L1.6 9.6 Z M1.6 9.6 H3.8 V11.7" fill="none" stroke="#1a6cf0" stroke-width="1.5" stroke-linejoin="round"/></svg>
<div class="a td" style="right:1836px;top:845.80px">68,666.00</div>
<div class="a td" style="right:1686px;top:845.80px">2,017.00</div>
<div class="a td" style="right:1536px;top:845.80px">125,030.20</div>
<div class="a td" style="right:1386px;top:845.80px">1.8208</div>
<div class="a td" style="right:1236px;top:845.80px">61.9882</div>
<div class="a td" style="right:1086px;top:845.80px">6</div>
<div class="a td" style="left:1489px;top:845.80px">5.99%</div>
<div class="a td" style="left:189px;top:873.65px;letter-spacing:-0.369px">SIGNIFY COMMERCIAL INDONESIA</div>
<svg class="a" style="left:390.75px;top:871.75px" width="11" height="13" viewBox="0 0 11 13"><path d="M2.6 1.6 H8.7 V10.4" fill="none" stroke="#4f93f3" stroke-width="1.4"/><path d="M1.6 3.4 H6.9 V11.7 H3.8 L1.6 9.6 Z M1.6 9.6 H3.8 V11.7" fill="none" stroke="#1a6cf0" stroke-width="1.5" stroke-linejoin="round"/></svg>
<div class="a td" style="right:1836px;top:873.65px">0.00</div>
<div class="a td" style="right:1686px;top:873.65px">101,808.00</div>
<div class="a td" style="right:1536px;top:873.65px">59,567.80</div>
<div class="a td" style="right:1386px;top:873.65px">0.0000</div>
<div class="a td" style="right:1236px;top:873.65px">0.5851</div>
<div class="a td" style="right:1086px;top:873.65px">2</div>
<div class="a td" style="left:1489px;top:873.65px">2.85%</div>
<div class="a td" style="left:189px;top:901.50px;letter-spacing:-0.285px">ARAB CONTRACTORS BRANCHE DU TCHAD</div>
<svg class="a" style="left:446.95px;top:899.60px" width="11" height="13" viewBox="0 0 11 13"><path d="M2.6 1.6 H8.7 V10.4" fill="none" stroke="#4f93f3" stroke-width="1.4"/><path d="M1.6 3.4 H6.9 V11.7 H3.8 L1.6 9.6 Z M1.6 9.6 H3.8 V11.7" fill="none" stroke="#1a6cf0" stroke-width="1.5" stroke-linejoin="round"/></svg>
<div class="a td" style="right:1836px;top:901.50px">49,241.00</div>
<div class="a td" style="right:1686px;top:901.50px">2.00</div>
<div class="a td" style="right:1536px;top:901.50px">59,041.68</div>
<div class="a td" style="right:1386px;top:901.50px">1.1990</div>
<div class="a td" style="right:1236px;top:901.50px">29,520.8400</div>
<div class="a td" style="right:1086px;top:901.50px">2</div>
<div class="a td" style="left:1489px;top:901.50px">2.83%</div>
<div class="a td" style="left:189px;top:929.35px;letter-spacing:-0.242px">CÔNG TY TNHH THƯƠNG MẠI DỊCH VỤ ĐIỆN MẠNH PHƯƠNG</div>
<svg class="a" style="left:547.15px;top:927.45px" width="11" height="13" viewBox="0 0 11 13"><path d="M2.6 1.6 H8.7 V10.4" fill="none" stroke="#4f93f3" stroke-width="1.4"/><path d="M1.6 3.4 H6.9 V11.7 H3.8 L1.6 9.6 Z M1.6 9.6 H3.8 V11.7" fill="none" stroke="#1a6cf0" stroke-width="1.5" stroke-linejoin="round"/></svg>
<div class="a td" style="right:1836px;top:929.35px">0.00</div>
<div class="a td" style="right:1686px;top:929.35px">16,872.00</div>
<div class="a td" style="right:1536px;top:929.35px">51,628.32</div>
<div class="a td" style="right:1386px;top:929.35px">0.0000</div>
<div class="a td" style="right:1236px;top:929.35px">3.0600</div>
<div class="a td" style="right:1086px;top:929.35px">1</div>
<div class="a td" style="left:1489px;top:929.35px">2.47%</div>
<div class="a td" style="left:189px;top:957.20px;letter-spacing:-0.336px">INGRAM MICRO S.A.C.</div>
<svg class="a" style="left:320.85px;top:955.30px" width="11" height="13" viewBox="0 0 11 13"><path d="M2.6 1.6 H8.7 V10.4" fill="none" stroke="#4f93f3" stroke-width="1.4"/><path d="M1.6 3.4 H6.9 V11.7 H3.8 L1.6 9.6 Z M1.6 9.6 H3.8 V11.7" fill="none" stroke="#1a6cf0" stroke-width="1.5" stroke-linejoin="round"/></svg>
<div class="a td" style="right:1836px;top:957.20px">337.04</div>
<div class="a td" style="right:1686px;top:957.20px">78.00</div>
<div class="a td" style="right:1536px;top:957.20px">43,181.58</div>
<div class="a td" style="right:1386px;top:957.20px">128.1200</div>
<div class="a td" style="right:1236px;top:957.20px">553.6100</div>
<div class="a td" style="right:1086px;top:957.20px">1</div>
<div class="a td" style="left:1489px;top:957.20px">2.07%</div>
<div class="a td" style="left:189px;top:985.05px;letter-spacing:-0.312px">SUPER NET LIMITED</div>
<svg class="a" style="left:311.65px;top:983.15px" width="11" height="13" viewBox="0 0 11 13"><path d="M2.6 1.6 H8.7 V10.4" fill="none" stroke="#4f93f3" stroke-width="1.4"/><path d="M1.6 3.4 H6.9 V11.7 H3.8 L1.6 9.6 Z M1.6 9.6 H3.8 V11.7" fill="none" stroke="#1a6cf0" stroke-width="1.5" stroke-linejoin="round"/></svg>
<div class="a td" style="right:1836px;top:985.05px">2,235.54</div>
<div class="a td" style="right:1686px;top:985.05px">0.00</div>
<div class="a td" style="right:1536px;top:985.05px">42,056.00</div>
<div class="a td" style="right:1386px;top:985.05px">18.8125</div>
<div class="a td" style="right:1236px;top:985.05px">0.0000</div>
<div class="a td" style="right:1086px;top:985.05px">1</div>
<div class="a td" style="left:1489px;top:985.05px">2.01%</div>
<div class="a td" style="left:189px;top:1012.90px;letter-spacing:-0.228px">PETROCHAD MANGARA LTD</div>
<svg class="a" style="left:358.15px;top:1011.00px" width="11" height="13" viewBox="0 0 11 13"><path d="M2.6 1.6 H8.7 V10.4" fill="none" stroke="#4f93f3" stroke-width="1.4"/><path d="M1.6 3.4 H6.9 V11.7 H3.8 L1.6 9.6 Z M1.6 9.6 H3.8 V11.7" fill="none" stroke="#1a6cf0" stroke-width="1.5" stroke-linejoin="round"/></svg>
<div class="a td" style="right:1836px;top:1012.90px">1,477.00</div>
<div class="a td" style="right:1686px;top:1012.90px">1,477.00</div>
<div class="a td" style="right:1536px;top:1012.90px">39,830.26</div>
<div class="a td" style="right:1386px;top:1012.90px">26.9670</div>
<div class="a td" style="right:1236px;top:1012.90px">26.9670</div>
<div class="a td" style="right:1086px;top:1012.90px">4</div>
<div class="a td" style="left:1489px;top:1012.90px">1.91%</div>
<div class="a td" style="left:189px;top:1040.75px;letter-spacing:-0.228px">UDES ELEKTRİK ELEKTRONİK MÜHENDİSLİK SANAYİ VE TİCA...</div>
<svg class="a" style="left:558.85px;top:1038.85px" width="11" height="13" viewBox="0 0 11 13"><path d="M2.6 1.6 H8.7 V10.4" fill="none" stroke="#4f93f3" stroke-width="1.4"/><path d="M1.6 3.4 H6.9 V11.7 H3.8 L1.6 9.6 Z M1.6 9.6 H3.8 V11.7" fill="none" stroke="#1a6cf0" stroke-width="1.5" stroke-linejoin="round"/></svg>
<div class="a td" style="right:1836px;top:1040.75px">2,112.13</div>
<div class="a td" style="right:1686px;top:1040.75px">7,262.00</div>
<div class="a td" style="right:1536px;top:1040.75px">36,046.26</div>
<div class="a td" style="right:1386px;top:1040.75px">17.0663</div>
<div class="a td" style="right:1236px;top:1040.75px">4.9637</div>
<div class="a td" style="right:1086px;top:1040.75px">3</div>
<div class="a td" style="left:1489px;top:1040.75px">1.73%</div>
<div class="a td" style="left:189px;top:1068.60px;letter-spacing:-0.385px">BRASSERIES DU TCHAD</div>
<svg class="a" style="left:332.95px;top:1066.70px" width="11" height="13" viewBox="0 0 11 13"><path d="M2.6 1.6 H8.7 V10.4" fill="none" stroke="#4f93f3" stroke-width="1.4"/><path d="M1.6 3.4 H6.9 V11.7 H3.8 L1.6 9.6 Z M1.6 9.6 H3.8 V11.7" fill="none" stroke="#1a6cf0" stroke-width="1.5" stroke-linejoin="round"/></svg>
<div class="a td" style="right:1836px;top:1068.60px">1,828.00</div>
<div class="a td" style="right:1686px;top:1068.60px">1,746.00</div>
<div class="a td" style="right:1536px;top:1068.60px">31,200.19</div>
<div class="a td" style="right:1386px;top:1068.60px">17.0679</div>
<div class="a td" style="right:1236px;top:1068.60px">17.8695</div>
<div class="a td" style="right:1086px;top:1068.60px">9</div>
<div class="a td" style="left:1489px;top:1068.60px">1.49%</div>
<div class="a td" style="left:189px;top:1096.45px;letter-spacing:-0.273px">ETS WADI LITRA</div>
<svg class="a" style="left:287.85px;top:1094.55px" width="11" height="13" viewBox="0 0 11 13"><path d="M2.6 1.6 H8.7 V10.4" fill="none" stroke="#4f93f3" stroke-width="1.4"/><path d="M1.6 3.4 H6.9 V11.7 H3.8 L1.6 9.6 Z M1.6 9.6 H3.8 V11.7" fill="none" stroke="#1a6cf0" stroke-width="1.5" stroke-linejoin="round"/></svg>
<div class="a td" style="right:1836px;top:1096.45px">7,740.00</div>
<div class="a td" style="right:1686px;top:1096.45px">1,385.00</div>
<div class="a td" style="right:1536px;top:1096.45px">30,536.32</div>
<div class="a td" style="right:1386px;top:1096.45px">3.9453</div>
<div class="a td" style="right:1236px;top:1096.45px">22.0479</div>
<div class="a td" style="right:1086px;top:1096.45px">1</div>
<div class="a td" style="left:1489px;top:1096.45px">1.46%</div>
<div class="a td" style="left:189px;top:1124.30px;letter-spacing:-0.130px">NASA ELEKTRİK AYDINLATMA SANAYİ VE TİCARET LİMİTED Ş...</div>
<svg class="a" style="left:558.85px;top:1122.40px" width="11" height="13" viewBox="0 0 11 13"><path d="M2.6 1.6 H8.7 V10.4" fill="none" stroke="#4f93f3" stroke-width="1.4"/><path d="M1.6 3.4 H6.9 V11.7 H3.8 L1.6 9.6 Z M1.6 9.6 H3.8 V11.7" fill="none" stroke="#1a6cf0" stroke-width="1.5" stroke-linejoin="round"/></svg>
<div class="a td" style="right:1836px;top:1124.30px">652.00</div>
<div class="a td" style="right:1686px;top:1124.30px">29,206.00</div>
<div class="a td" style="right:1536px;top:1124.30px">30,156.75</div>
<div class="a td" style="right:1386px;top:1124.30px">46.2527</div>
<div class="a td" style="right:1236px;top:1124.30px">1.0326</div>
<div class="a td" style="right:1086px;top:1124.30px">2</div>
<div class="a td" style="left:1489px;top:1124.30px">1.44%</div>
<div class="a td" style="left:189px;top:1152.15px;letter-spacing:-0.366px">ETS BRAHIM SALISSOU</div>
<svg class="a" style="left:327.85px;top:1150.25px" width="11" height="13" viewBox="0 0 11 13"><path d="M2.6 1.6 H8.7 V10.4" fill="none" stroke="#4f93f3" stroke-width="1.4"/><path d="M1.6 3.4 H6.9 V11.7 H3.8 L1.6 9.6 Z M1.6 9.6 H3.8 V11.7" fill="none" stroke="#1a6cf0" stroke-width="1.5" stroke-linejoin="round"/></svg>
<div class="a td" style="right:1836px;top:1152.15px">18,440.00</div>
<div class="a td" style="right:1686px;top:1152.15px">575.00</div>
<div class="a td" style="right:1536px;top:1152.15px">30,119.70</div>
<div class="a td" style="right:1386px;top:1152.15px">1.6334</div>
<div class="a td" style="right:1236px;top:1152.15px">52.3821</div>
<div class="a td" style="right:1086px;top:1152.15px">1</div>
<div class="a td" style="left:1489px;top:1152.15px">1.44%</div>
<div class="a td" style="left:189px;top:1180.00px;letter-spacing:-0.108px">CÔNG TY TNHH ĐIỆN TỬ SAMSUNG HCMC CE COMPLEX CH...</div>
<svg class="a" style="left:558.85px;top:1178.10px" width="11" height="13" viewBox="0 0 11 13"><path d="M2.6 1.6 H8.7 V10.4" fill="none" stroke="#4f93f3" stroke-width="1.4"/><path d="M1.6 3.4 H6.9 V11.7 H3.8 L1.6 9.6 Z M1.6 9.6 H3.8 V11.7" fill="none" stroke="#1a6cf0" stroke-width="1.5" stroke-linejoin="round"/></svg>
<div class="a td" style="right:1836px;top:1180.00px">0.00</div>
<div class="a td" style="right:1686px;top:1180.00px">50.00</div>
<div class="a td" style="right:1536px;top:1180.00px">29,533.23</div>
<div class="a td" style="right:1386px;top:1180.00px">0.0000</div>
<div class="a td" style="right:1236px;top:1180.00px">590.6646</div>
<div class="a td" style="right:1086px;top:1180.00px">1</div>
<div class="a td" style="left:1489px;top:1180.00px">1.41%</div>
<div class="a td" style="left:189px;top:1207.85px;letter-spacing:-0.139px">YSF AYDINLATMA ELEKTRONİK TURİZM SANAYİ VE TİCARET ...</div>
<svg class="a" style="left:558.85px;top:1205.95px" width="11" height="13" viewBox="0 0 11 13"><path d="M2.6 1.6 H8.7 V10.4" fill="none" stroke="#4f93f3" stroke-width="1.4"/><path d="M1.6 3.4 H6.9 V11.7 H3.8 L1.6 9.6 Z M1.6 9.6 H3.8 V11.7" fill="none" stroke="#1a6cf0" stroke-width="1.5" stroke-linejoin="round"/></svg>
<div class="a td" style="right:1836px;top:1207.85px">9,006.00</div>
<div class="a td" style="right:1686px;top:1207.85px">23,260.00</div>
<div class="a td" style="right:1536px;top:1207.85px">24,784.00</div>
<div class="a td" style="right:1386px;top:1207.85px">2.7519</div>
<div class="a td" style="right:1236px;top:1207.85px">1.0655</div>
<div class="a td" style="right:1086px;top:1207.85px">1</div>
<div class="a td" style="left:1489px;top:1207.85px">1.19%</div>
<div class="a td" style="left:189px;top:1235.70px;letter-spacing:-0.165px">FEILO SYLVANIA PANAMA S.A.</div>
<svg class="a" style="left:368.15px;top:1233.80px" width="11" height="13" viewBox="0 0 11 13"><path d="M2.6 1.6 H8.7 V10.4" fill="none" stroke="#4f93f3" stroke-width="1.4"/><path d="M1.6 3.4 H6.9 V11.7 H3.8 L1.6 9.6 Z M1.6 9.6 H3.8 V11.7" fill="none" stroke="#1a6cf0" stroke-width="1.5" stroke-linejoin="round"/></svg>
<div class="a td" style="right:1836px;top:1235.70px">1,907.00</div>
<div class="a td" style="right:1686px;top:1235.70px">597.00</div>
<div class="a td" style="right:1536px;top:1235.70px">23,693.00</div>
<div class="a td" style="right:1386px;top:1235.70px">12.4242</div>
<div class="a td" style="right:1236px;top:1235.70px">39.6868</div>
<div class="a td" style="right:1086px;top:1235.70px">1</div>
<div class="a td" style="left:1489px;top:1235.70px">1.14%</div>
<div class="a td" style="left:189px;top:1263.55px;letter-spacing:0.300px">N/A</div>
<svg class="a" style="left:216.85px;top:1261.65px" width="11" height="13" viewBox="0 0 11 13"><path d="M2.6 1.6 H8.7 V10.4" fill="none" stroke="#4f93f3" stroke-width="1.4"/><path d="M1.6 3.4 H6.9 V11.7 H3.8 L1.6 9.6 Z M1.6 9.6 H3.8 V11.7" fill="none" stroke="#1a6cf0" stroke-width="1.5" stroke-linejoin="round"/></svg>
<div class="a td" style="right:1836px;top:1263.55px">166,163.18</div>
<div class="a td" style="right:1686px;top:1263.55px">145,394.32</div>
<div class="a td" style="right:1536px;top:1263.55px">131,389.10</div>
<div class="a td" style="right:1386px;top:1263.55px">0.7907</div>
<div class="a td" style="right:1236px;top:1263.55px">0.9037</div>
<div class="a td" style="right:1086px;top:1263.55px">42</div>
<div class="a td" style="left:1489px;top:1263.55px">6.30%</div>
<div class="a" style="left:181px;top:1284.4px;width:2344px;height:8px;background:#ededed"></div>
<div class="a" style="left:183px;top:1286.4px;width:2333.5px;height:4px;border-radius:2px;background:#a6a6a6"></div>
<div class="a" style="left:2083px;top:1305px;width:80px;height:30px;border:1px solid #d5d8de;border-radius:4px;background:#fff"></div>
<div class="a" style="left:2173px;top:1305px;width:32px;height:30px;border:1px solid #d5d8de;border-radius:4px;background:#fff"></div>
<div class="a" style="left:2213px;top:1305px;width:32px;height:30px;border:1px solid #1a6cf0;border-radius:4px;background:#1a6cf0"></div>
<div class="a" style="left:2253px;top:1305px;width:32px;height:30px;border:1px solid #d5d8de;border-radius:4px;background:#fff"></div>
<div class="a" style="left:2293px;top:1305px;width:32px;height:30px;border:1px solid #d5d8de;border-radius:4px;background:#fff"></div>
<div class="a" style="left:2333px;top:1305px;width:32px;height:30px;border:1px solid #d5d8de;border-radius:4px;background:#fff"></div>
<div class="a" style="left:2373px;top:1305px;width:32px;height:30px;border:1px solid #d5d8de;border-radius:4px;background:#fff"></div>
<div class="a" style="left:2453px;top:1305px;width:32px;height:30px;border:1px solid #d5d8de;border-radius:4px;background:#fff"></div>
<div class="a" style="left:2493px;top:1305px;width:32px;height:30px;border:1px solid #d5d8de;border-radius:4px;background:#fff"></div>
<div class="a" style="left:2104px;top:1312.5px;font-size:12px;color:#555;line-height:13px">20 条/页</div>
<div class="a" style="left:2105px;top:375px;width:397px;height:45px;border:1px solid #f6cbc2"></div>
<div class="a" style="left:2111px;top:381.5px;font-size:31px;color:#ee3318;font-weight:500;line-height:38px;letter-spacing:1.2px">下载数量从500调整为1000</div>
<div class="a" style="left:2333px;top:495px;width:112px;height:54px;border:3px solid #ee3318;border-radius:4px;filter:drop-shadow(0 1.5px 1.5px rgba(0,0,0,.18))"></div>
<div class="a" style="left:2446px;top:494px;width:89px;height:55px;border:3px solid #ee3318;border-radius:4px;filter:drop-shadow(0 1.5px 1.5px rgba(0,0,0,.18))"></div>
<svg class="a" style="left:0;top:0;filter:drop-shadow(0 2px 1.5px rgba(0,0,0,.2))" width="2558" height="1314"><path d="M1278 521.3 L2283 508.5" stroke="#ee3318" stroke-width="3.1" fill="none" stroke-linecap="round"/><path d="M2271.5 502 L2284.5 508.5 L2272.5 514.5" stroke="#ee3318" stroke-width="3" fill="none" stroke-linecap="round" stroke-linejoin="round"/></svg>
<div class="a hshadow"></div></body></html>
